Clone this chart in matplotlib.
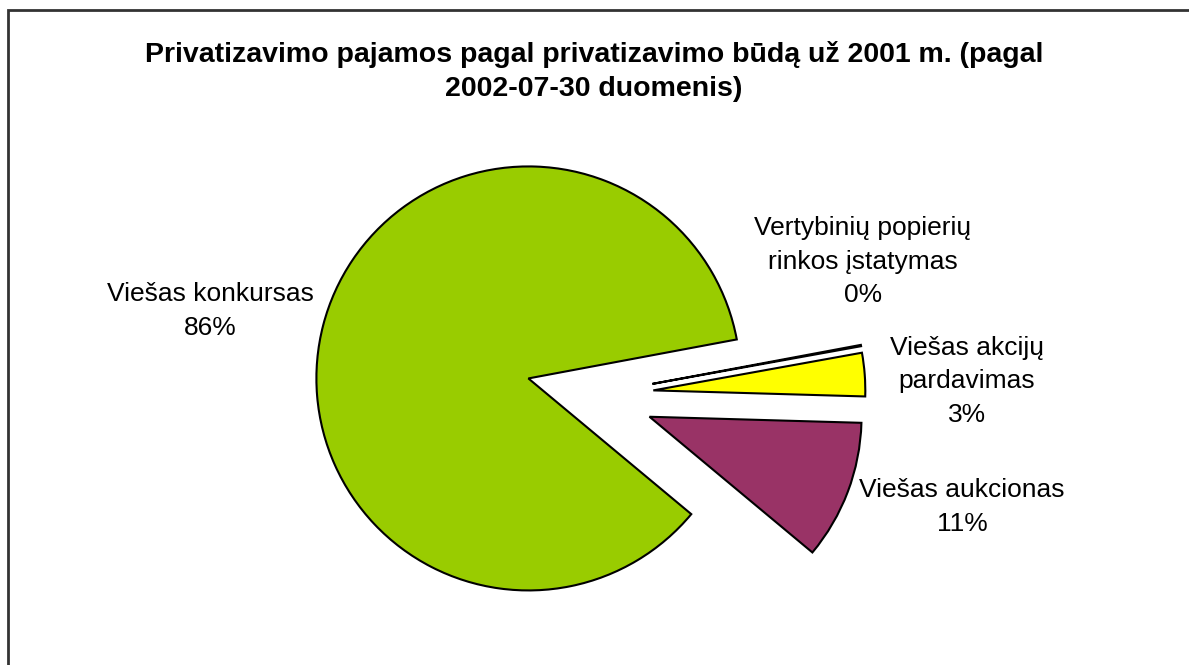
import matplotlib.pyplot as plt
from matplotlib.patches import Rectangle

plt.rcParams['font.family'] = ['Liberation Sans', 'DejaVu Sans']

# data
categories = ['Viešas konkursas', 'Vertybinių popierių\nrinkos įstatymas',
              'Viešas akcijų\npardavimas', 'Viešas aukcionas']
shares = [86.0, 0.1, 3.3, 10.6]
pct_labels = ['86%', '0%', '3%', '11%']
colors = ['#99CC00', '#FFFFFF', '#FFFF00', '#993366']
title = 'Privatizavimo pajamos pagal privatizavimo būdą už 2001 m. (pagal\n2002-07-30 duomenis)'

W, H = 1189, 665
fig = plt.figure(figsize=(W/100, H/100), dpi=100)
ax = fig.add_axes([0, 0, 1, 1])

# pie centre and radius in pixels
cx, cy, r = 592, 395, 212

wedges, _ = ax.pie(shares, colors=colors, explode=[0.31, 0.29, 0.29, 0.29],
                   startangle=-39.8, counterclock=False,
                   wedgeprops=dict(edgecolor='black', linewidth=1.5))
ax.set_xlim(-cx/r, (W-cx)/r)
ax.set_ylim(-(H-cy)/r, cy/r)
ax.set_aspect('auto')
ax.axis('off')

# label centres (pixels)
label_pos = [(210, 311), (863, 262), (967, 381), (962, 507)]
for cat, p, (lx, ly) in zip(categories, pct_labels, label_pos):
    ax.text((lx-cx)/r, (cy-ly)/r, cat + '\n' + p, ha='center', va='center',
            fontsize=19, linespacing=1.5, color='black')

fig.text(594/W, 1-71/H, title, ha='center', va='center', fontsize=20.5,
         fontweight='bold', linespacing=1.4)

# outer chart frame (bottom and right go past the image)
fig.patches.append(Rectangle((8/W, -0.1), 1.2, 1.1-10/H, transform=fig.transFigure,
                             fill=False, edgecolor='#333333', linewidth=2))

fig.savefig('out.png', dpi=100)
